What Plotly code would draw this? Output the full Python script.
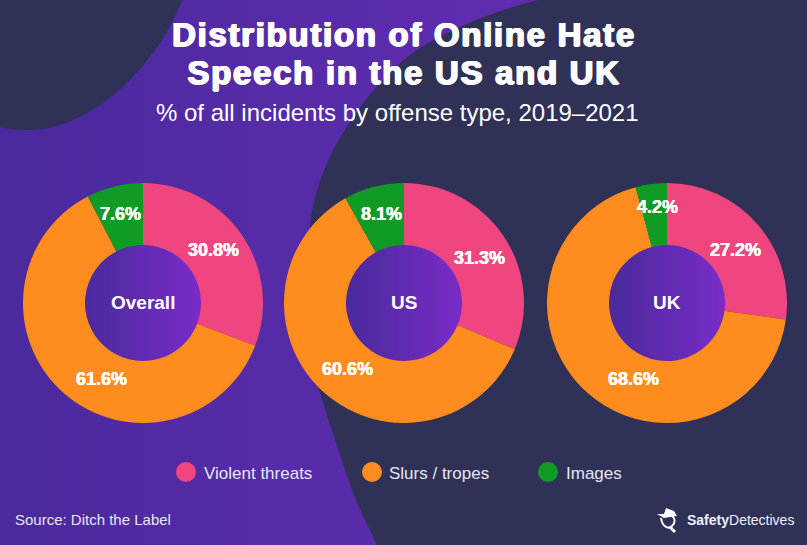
import plotly.graph_objects as go

categories = ["Violent threats", "Slurs / tropes", "Images"]
groups = ["Overall", "US", "UK"]
overall_values = [30.8, 61.6, 7.6]
us_values = [31.3, 60.6, 8.1]
uk_values = [27.2, 68.6, 4.2]
series = [overall_values, us_values, uk_values]
colors = ["#F0467F", "#FF8C1E", "#0F9B24"]

W, H = 807, 545
DARK = "#2F3157"
WHITE = "#FFFFFF"
FONT = "Liberation Sans"


def lerp(a, b, t):
    return "#" + "".join(f"{round(a[i] + (b[i] - a[i]) * t):02X}" for i in range(3))


def px(x):
    return x / W


def py(y):
    return 1 - y / H


def P(x, y):
    return f"{px(x):.5f},{py(y):.5f}"


shapes = []
# page gradient
for x in range(0, 560, 8):
    shapes.append(dict(type="rect", xref="paper", yref="paper", layer="below",
                       x0=px(x), x1=px(x + 9), y0=0, y1=1, line_width=0,
                       fillcolor=lerp((0x4A, 0x2A, 0x9C), (0x62, 0x2C, 0xB2), x / 560)))

blob1 = (f"M {P(0,0)} L {P(182,0)} C {P(160,60)} {P(95,130)} {P(28,130)} "
         f"C {P(18,130)} {P(8,129)} {P(0,127)} Z")
blob2 = (f"M {P(538,0)} C {P(490,12)} {P(440,33)} {P(410,55)} "
         f"C {P(375,82)} {P(345,125)} {P(330,157)} "
         f"C {P(318,182)} {P(312,205)} {P(310,227)} "
         f"C {P(304,260)} {P(301,290)} {P(304,310)} "
         f"C {P(308,345)} {P(314,375)} {P(320,393)} "
         f"C {P(330,425)} {P(345,470)} {P(354,495)} "
         f"C {P(362,515)} {P(370,530)} {P(377,545)} L {P(807,545)} L {P(807,0)} Z")
for b in (blob1, blob2):
    shapes.append(dict(type="path", xref="paper", yref="paper", layer="below",
                       path=b, fillcolor=DARK, line_width=0))

centers = [143, 404, 667]
CY, R, HOLE_R = 303, 120, 58
fig = go.Figure()
for g, vals, cx in zip(groups, series, centers):
    # hole gradient sits behind the ring, whose width hides the strip corners
    for x in range(-HOLE_R - 2, HOLE_R + 2, 3):
        t = min(max((x + HOLE_R) / (2 * HOLE_R), 0), 1)
        shapes.append(dict(type="rect", xref="paper", yref="paper", layer="below",
                           x0=px(cx + x), x1=px(cx + x + 4),
                           y0=py(CY + HOLE_R + 3), y1=py(CY - HOLE_R - 3), line_width=0,
                           fillcolor=lerp((0x4A, 0x2A, 0x9C), (0x7A, 0x2C, 0xC8), t)))
    fig.add_trace(go.Pie(
        labels=categories, values=vals, name=g, sort=False, direction="clockwise",
        rotation=0, hole=HOLE_R / R, textinfo="none", hoverinfo="label+value",
        marker=dict(colors=colors, line=dict(width=0)),
        domain=dict(x=[px(cx - R), px(cx + R)], y=[py(CY + R), py(CY - R)]),
        showlegend=False))

annotations = []


def text(x, y, s, size, bold=False, color=WHITE, anchor="center", shadow=None):
    annotations.append(dict(
        xref="paper", yref="paper", x=px(x), y=py(y), text=f"<b>{s}</b>" if bold else s,
        showarrow=False, xanchor=anchor, yanchor="middle",
        font=dict(family=FONT, size=size, color=color, shadow=shadow or "none")))


HEAVY = "0.9px 0 0 #fff, -0.9px 0 0 #fff, 0 0.5px 0 #fff, 0 -0.5px 0 #fff"
LIGHT = "0.3px 0 0 #fff, -0.3px 0 0 #fff"
text(404, 34, "Distribution of Online Hate", 33, True, shadow=HEAVY)
text(404, 72, "Speech in the US and UK", 33, True, shadow=HEAVY)
text(397, 113, "% of all incidents by offense type, 2019–2021", 24)

label_pos = [[(213, 250), (102, 379), (120, 214)],
             [(479, 258), (347, 369), (381, 214)],
             [(735, 250), (633, 379), (657, 207)]]
for vals, positions, g, cx in zip(series, label_pos, groups, centers):
    for v, (x, y) in zip(vals, positions):
        text(x, y, f"{v}%", 18, True, shadow=LIGHT)
    text(cx, 302, g, 19, True)

legend_marks = [(186, 202), (372, 387), (548, 564)]
for cat, col, (mx, tx) in zip(categories, colors, legend_marks):
    shapes.append(dict(type="circle", xref="paper", yref="paper",
                       x0=px(mx - 10), x1=px(mx + 10), y0=py(482), y1=py(462),
                       fillcolor=col, line_width=0))
    text(tx, 473, cat, 17, color="#E6E6F2", anchor="left")

text(13, 519, "Source: Ditch the Label", 15, color="#E6E6F2", anchor="left")

# logo: hat, lens and handle
hat = (f"M {P(657,514)} L {P(664,514)} L {P(666,508)} L {P(674,511)} L {P(677,516)} "
       f"L {P(670,517)} L {P(664,518)} Z")
shapes.append(dict(type="path", xref="paper", yref="paper", path=hat,
                   fillcolor=WHITE, line_width=0))
lens = (f"M {P(661,518)} C {P(662,526)} {P(668,530)} {P(672,526)} "
        f"C {P(676,522)} {P(675,518)} {P(672,516)}")
shapes.append(dict(type="path", xref="paper", yref="paper", path=lens,
                   line=dict(color=WHITE, width=2)))
shapes.append(dict(type="line", xref="paper", yref="paper",
                   x0=px(670), y0=py(527), x1=px(675), y1=py(532),
                   line=dict(color=WHITE, width=3)))
annotations.append(dict(
    xref="paper", yref="paper", x=px(796), y=py(520), xanchor="right", yanchor="middle",
    showarrow=False, text="<b>Safety</b>Detectives",
    font=dict(family=FONT, size=14, color="#F0F0F8")))

fig.update_layout(width=W, height=H, margin=dict(l=0, r=0, t=0, b=0), autosize=False,
                  paper_bgcolor=DARK, plot_bgcolor=DARK,
                  shapes=shapes, annotations=annotations, showlegend=False)

# the browser's default page margin would shift the chart; title tracking is a CSS-only setting
post = """
document.body.style.margin = '0';
document.querySelectorAll('.annotation-text').forEach(function (t) {
  if (/Distribution|Speech/.test(t.textContent)) { t.style.letterSpacing = '1.7px'; }
});
"""
fig.write_html("out.html", config=dict(displayModeBar=False), post_script=post)
